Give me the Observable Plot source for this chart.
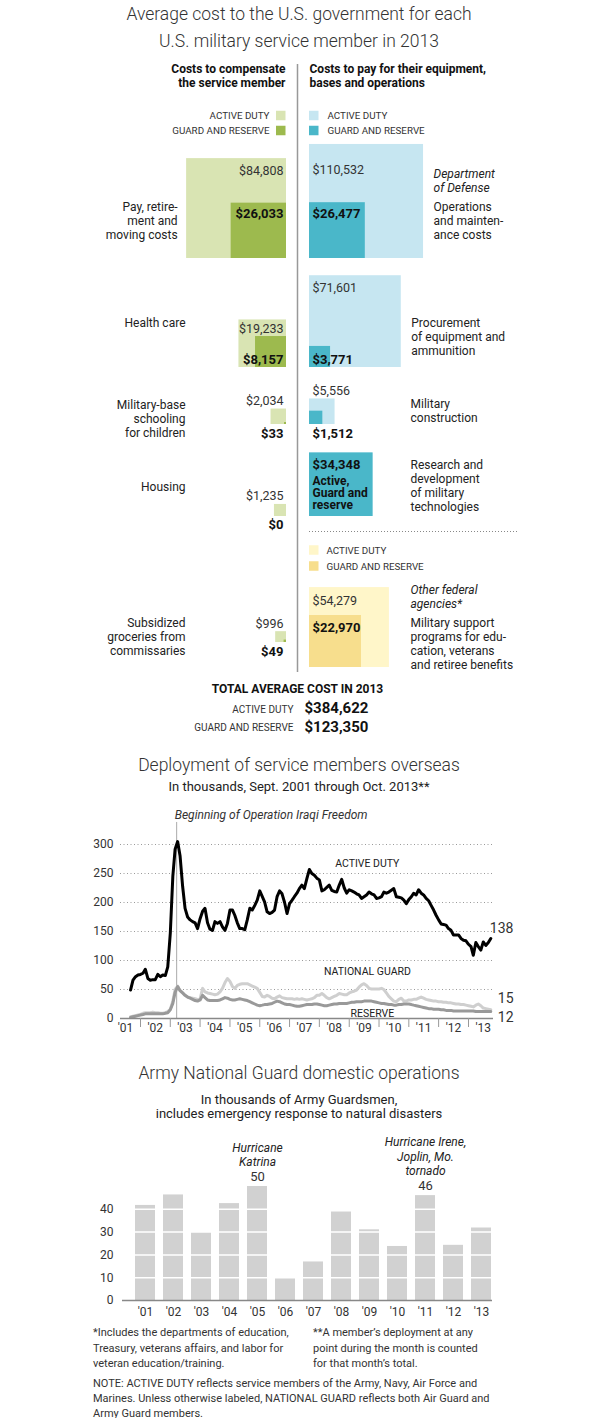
<!DOCTYPE html>
<html><head><meta charset="utf-8">
<script src="https://cdn.jsdelivr.net/npm/d3@7"></script>
<script src="https://cdn.jsdelivr.net/npm/@observablehq/plot@0.6"></script>
<style>
body{margin:0;background:#fff;font-family:Roboto,"Open Sans",sans-serif;color:#333}
#page{position:relative;width:606px;height:1418px;overflow:hidden;background:#fff}
.abs{position:absolute;white-space:nowrap}
.title{font-weight:300;font-size:17.5px;line-height:27px;color:#333;text-align:center;left:0;width:598px}
.sub{font-size:13px;color:#222;text-align:center;left:0;width:598px}
.foot{font-size:11px;color:#333}
</style></head>
<body><div id="page"></div>
<script>
// ---------------- DATA ----------------
const compCategories = ["Pay, retire-\nment and\nmoving costs", "Health care", "Military-base\nschooling\nfor children", "Housing", "Subsidized\ngroceries from\ncommissaries"];
const compActive = [84808, 19233, 2034, 1235, 996];
const compGuard  = [26033, 8157, 33, 0, 49];

const opsCategories = ["Operations\nand mainten-\nance costs", "Procurement\nof equipment and\nammunition", "Military\nconstruction", "Research and\ndevelopment\nof military\ntechnologies", "Military support\nprograms for edu-\ncation, veterans\nand retiree benefits"];
const opsAgency = ["Department\nof Defense", "Department\nof Defense", "Department\nof Defense", "Department\nof Defense", "Other federal\nagencies*"];
const opsActive = [110532, 71601, 5556, 34348, 54279];
const opsGuard  = [26477, 3771, 1512, 34348, 22970];

const legendGroups = ["ACTIVE DUTY", "GUARD AND RESERVE"];
const totalGroups = ["ACTIVE DUTY", "GUARD AND RESERVE"];
const totalCosts = [384622, 123350];

// Monthly deployments overseas, thousands, Sept. 2001 - Oct. 2013
const deployStart = "2001-09";
const activeDuty = [
  49, 66, 72, 75,
  76, 78, 85, 69, 66, 67, 67, 76, 72, 75, 74, 89,
  147, 245, 292, 305, 280, 228, 190, 175, 170, 167, 165, 155,
  172, 185, 190, 165, 154, 152, 167, 164, 167, 158, 152, 164,
  187, 187, 178, 165, 155, 155, 153, 170, 190, 187, 195, 204,
  220, 210, 201, 184, 181, 183, 187, 210, 220, 215, 200, 181,
  198, 204, 210, 216, 224, 230, 224, 241, 257, 250, 247, 242,
  239, 220, 222, 226, 230, 221, 219, 218, 230, 240, 225, 216,
  222, 220, 218, 215, 213, 207, 210, 213, 218, 215, 213, 207,
  208, 210, 218, 216, 218, 221, 224, 210, 209, 208, 204, 198,
  205, 210, 216, 213, 222, 216, 213, 207, 203, 195, 187, 178,
  170, 163, 162, 161, 155, 152, 144, 144, 144, 138, 135, 134,
  128, 124, 109, 131, 124, 118, 132, 126, 131, 138
];
const nationalGuard = [
  3, 4, 5, 6,
  7, 9, 10, 10, 10, 11, 10, 10, 9, 9, 10, 12,
  16, 30, 50, 56, 48, 44, 40, 37, 36, 35, 34, 33,
  34, 52, 46, 44, 43, 42, 41, 42, 46, 52, 62, 69,
  64, 55, 52, 57, 59, 60, 60, 60, 58, 56, 54, 52,
  45, 38, 37, 40, 38, 35, 34, 37, 39, 36, 35, 34,
  34, 34, 33, 34, 33, 34, 33, 32, 33, 34, 36, 40,
  40, 43, 40, 36, 34, 36, 38, 40, 43, 42, 41, 41,
  44, 46, 47, 49, 54, 58, 60, 57, 52, 51, 51, 51,
  51, 52, 50, 44, 38, 34, 30, 29, 33, 35, 30, 30,
  32, 32, 33, 33, 35, 37, 35, 33, 32, 31, 30, 30,
  29, 29, 28, 28, 27, 27, 26, 25, 25, 24, 24, 23,
  22, 21, 20, 23, 25, 22, 18, 17, 16, 15
];
const reserve = [
  2, 3, 4, 5,
  6, 7, 8, 8, 8, 8, 8, 8, 8, 8, 9, 10,
  15, 26, 45, 55, 48, 44, 40, 37, 35, 33, 31, 30,
  32, 40, 36, 32, 31, 31, 31, 31, 32, 34, 36, 35,
  33, 32, 32, 33, 34, 33, 32, 31, 29, 27, 25, 23,
  22, 23, 24, 24, 25, 26, 28, 30, 29, 27, 25, 24,
  24, 23, 22, 21, 21, 22, 23, 24, 24, 24, 25, 25,
  24, 23, 22, 22, 23, 24, 25, 25, 26, 26, 26, 26,
  27, 28, 28, 29, 29, 29, 30, 30, 30, 30, 29, 28,
  27, 26, 26, 25, 24, 24, 23, 23, 24, 24, 25, 25,
  25, 24, 23, 22, 21, 20, 19, 18, 17, 17, 16, 16,
  16, 15, 15, 14, 14, 14, 13, 13, 13, 13, 13, 13,
  13, 13, 13, 12, 12, 12, 12, 12, 12, 12
];
const deployTicks = [0, 50, 100, 150, 200, 250, 300];
const iraqLabel = "Beginning of Operation Iraqi Freedom";
const iraqDate = "2003-03-20";

// Army National Guard domestic operations, thousands
const opsYears = ["2001","2002","2003","2004","2005","2006","2007","2008","2009","2010","2011","2012","2013"];
const guardsmen = [41.7, 46.3, 29.8, 42.5, 50, 9.8, 16.9, 38.8, 31, 23.7, 46, 24.2, 31.8];
const guardTicks = [0, 10, 20, 30, 40];
const barNotes = [{year: "2005", text: "Hurricane\nKatrina"}, {year: "2011", text: "Hurricane Irene,\nJoplin, Mo.\ntornado"}];
const labeledYears = ["2005", "2011"];

// ---------------- STYLE / LAYOUT ----------------
const FONT = "Roboto, 'Open Sans', sans-serif";
const palette = {comp: ["#d9e4b3", "#9dba4e"], dod: ["#c6e6f1", "#4ab7c9"], other: ["#fff6c9", "#f7de8d"]};
const agencyPalette = i => opsAgency[i].startsWith("Department") ? palette.dod : palette.other;
const page = document.getElementById("page");
function addDiv(html, cls, css) {
  const d = document.createElement("div");
  d.className = "abs " + cls; d.innerHTML = html; Object.assign(d.style, css); page.appendChild(d); return d;
}
function addSvg(svg, top) {
  svg.style.position = "absolute"; svg.style.left = "0px"; svg.style.top = top + "px"; svg.style.overflow = "visible";
  page.appendChild(svg);
}
const fmt = d3.format("$,");

// ---------- Section 1: squares ----------
addDiv("Average cost to the U.S. government for each<br>U.S. military service member in 2013", "title", {top: "1px"});

const H1 = 690, TOP1 = 56, K = 0.343, DIV_X = 297, LEFT_EDGE = 286, RIGHT_EDGE = 309;
const ux = px => (px - DIV_X) / K;          // x in sqrt-dollar units, 0 at divider
const uy = py => (py - TOP1) / K;           // y in sqrt-dollar units
const rowBaseLeft = [258, 367, 424, 516, 642];
const rowBaseRight = [258, 367, 424, 516, 667];
const leftLabelTop = [207, 323, 405, 487, 623];
const rightLabelTop = [207, 323, 404, 465, 623];
const LINE = 13.8;
const labOff = {
  leftActive: [["top", 12], ["top", 9], ["top", -8], ["top", -8], ["top", -8]],
  leftGuard: [["gtop", 11], ["base", -8], ["base", 9], ["base", 8], ["base", 9]],
  rightActive: [["top", 26], ["top", 12], ["top", -8], ["top", 12], ["top", 13]],
  rightGuard: [["gtop", 11], ["base", -8], ["base", 9], null, ["gtop", 12]]
};
function labY(base, a, g, off) {
  const b = uy(base);
  const r = off[0] === "top" ? b - Math.sqrt(a) : off[0] === "gtop" ? b - Math.sqrt(g) : b;
  return r + off[1] / K;
}

const squares = [];
[0, 1].forEach(k => {
  compCategories.forEach((c, i) => squares.push({side: "L", base: rowBaseLeft[i], value: (k ? compGuard : compActive)[i], fill: palette.comp[k]}));
  opsCategories.forEach((c, i) => squares.push({side: "R", base: rowBaseRight[i], value: (k ? opsGuard : opsActive)[i], fill: agencyPalette(i)[k]}));
});

const leftCat = [], rightCat = [], agencyLab = [];
compCategories.forEach((c, i) => {
  const xl = Math.min(ux(185), ux(LEFT_EDGE) - Math.sqrt(compActive[i]) - 9 / K);
  c.split("\n").forEach((line, j) => leftCat.push({x: xl, y: uy(leftLabelTop[i] + j * LINE), t: line}));
});
opsCategories.forEach((c, i) => {
  const xr = Math.max(ux(410), ux(RIGHT_EDGE) + Math.sqrt(opsActive[i]) + 10 / K);
  c.split("\n").forEach((line, j) => rightCat.push({x: xr, y: uy(rightLabelTop[i] + j * LINE), t: line}));
  if (i === 0 || opsAgency[i] !== opsAgency[i - 1])
    opsAgency[i].split("\n").forEach((line, j) => agencyLab.push({x: xr, y: uy(rightLabelTop[i] - 33 + j * LINE), t: line}));
});

const regL = [], regR = [], boldL = [], boldR = [], boldSmallR = [];
compCategories.forEach((c, i) => {
  const a = compActive[i], g = compGuard[i], b = rowBaseLeft[i], x = ux(LEFT_EDGE - 3);
  regL.push({x, y: labY(b, a, g, labOff.leftActive[i]), t: fmt(a)});
  boldL.push({x, y: labY(b, a, g, labOff.leftGuard[i]), t: fmt(g)});
});
opsCategories.forEach((c, i) => {
  const a = opsActive[i], g = opsGuard[i], b = rowBaseRight[i], x = ux(RIGHT_EDGE + 3);
  if (a === g) {
    const y0 = labY(b, a, g, labOff.rightActive[i]);
    boldR.push({x, y: y0, t: fmt(a)});
    ["Active,", "Guard and", "reserve"].forEach((t, j) => boldSmallR.push({x, y: y0 + (16 + 12 * j) / K, t}));
  } else {
    regR.push({x, y: labY(b, a, g, labOff.rightActive[i]), t: fmt(a)});
    boldR.push({x, y: labY(b, a, g, labOff.rightGuard[i]), t: fmt(g)});
  }
});

const P = (xpx, ypx, t) => ({x: ux(xpx), y: uy(ypx), t});
const txt = (items, o = {}) => Plot.text(items, {x: "x", y: "y", text: "t", fontSize: 12, fill: "#222", ...o});
const swatches = [
  ...legendGroups.map((g, k) => ({x1: 276, y: [115.5, 130.5][k], fill: palette.comp[k]})),
  ...legendGroups.map((g, k) => ({x1: 309, y: [115.5, 130.5][k], fill: palette.dod[k]})),
  ...legendGroups.map((g, k) => ({x1: 309, y: [550, 566][k], fill: palette.other[k]}))
];

const chart1 = Plot.plot({
  width: 606, height: H1, margin: 0,
  x: {domain: [ux(0), ux(606)], range: [0, 606], axis: null},
  y: {domain: [0, H1 / K], range: [0, H1], axis: null},
  color: {type: "identity"},
  style: {fontFamily: FONT, background: "transparent"},
  marks: [
    Plot.ruleX([0], {y1: uy(64), y2: uy(672), stroke: "#999", strokeWidth: 1.5}),
    Plot.ruleY([uy(531)], {x1: ux(309), x2: ux(517), stroke: "#888", strokeDasharray: "1,2"}),
    Plot.rect(squares, {
      x1: d => d.side === "L" ? ux(LEFT_EDGE) - Math.sqrt(d.value) : ux(RIGHT_EDGE),
      x2: d => d.side === "L" ? ux(LEFT_EDGE) : ux(RIGHT_EDGE) + Math.sqrt(d.value),
      y1: d => uy(d.base) - Math.sqrt(d.value),
      y2: d => uy(d.base),
      fill: "fill"
    }),
    Plot.rect(swatches, {x1: d => ux(d.x1), x2: d => ux(d.x1 + 9.5), y1: d => uy(d.y - 4.75), y2: d => uy(d.y + 4.75), fill: "fill"}),
    txt(legendGroups.map((g, k) => P(269, [115.5, 130.5][k], g)), {textAnchor: "end", fontSize: 9.8, fill: "#333"}),
    txt(legendGroups.map((g, k) => P(327, [115.5, 130.5][k], g)), {textAnchor: "start", fontSize: 9.8, fill: "#333"}),
    txt(legendGroups.map((g, k) => P(326, [550, 566][k], g)), {textAnchor: "start", fontSize: 9.8, fill: "#333"}),
    txt([P(285, 69, "Costs to compensate"), P(285, 82.5, "the service member")], {textAnchor: "end", fontWeight: "bold", fill: "#111"}),
    txt([P(309, 69, "Costs to pay for their equipment,"), P(309, 82.5, "bases and operations")], {textAnchor: "start", fontWeight: "bold", fill: "#111"}),
    txt(leftCat, {textAnchor: "end"}),
    txt(rightCat, {textAnchor: "start"}),
    txt(agencyLab, {textAnchor: "start", fontStyle: "italic"}),
    txt(regL, {textAnchor: "end", fontSize: 12.5, fill: "#333"}),
    txt(regR, {textAnchor: "start", fontSize: 12.5, fill: "#333"}),
    txt(boldL, {textAnchor: "end", fontSize: 13, fontWeight: "bold", fill: "#111"}),
    txt(boldR, {textAnchor: "start", fontSize: 13, fontWeight: "bold", fill: "#111"}),
    txt(boldSmallR, {textAnchor: "start", fontSize: 12, fontWeight: "bold", fill: "#111"}),
    txt([P(297, 689, "TOTAL AVERAGE COST IN 2013")], {textAnchor: "middle", fontWeight: "bold", fill: "#111"}),
    txt(totalGroups.map((g, k) => P(293, [709, 727][k], g)), {textAnchor: "end", fontSize: 10, fill: "#333"}),
    txt(totalCosts.map((v, k) => P(304, [708, 726.5][k], fmt(v))), {textAnchor: "start", fontSize: 15, fontWeight: "bold", fill: "#111"})
  ]
});
addSvg(chart1, TOP1);

// ---------- Section 2: deployment line chart ----------
addDiv("Deployment of service members overseas", "title", {top: "751.5px"});
addDiv("In thousands, Sept. 2001 through Oct. 2013**", "sub", {top: "779px", lineHeight: "16px"});

const start = d3.utcParse("%Y-%m")(deployStart);
const toSeries = (arr) => arr.map((v, i) => ({date: d3.utcMonth.offset(start, i), value: v}));
const activeData = toSeries(activeDuty), guardData = toSeries(nationalGuard), reserveData = toSeries(reserve);
const yearStarts = d3.utcYear.range(new Date(Date.UTC(2002, 0, 1)), new Date(Date.UTC(2013, 1, 1)));
const midYears = d3.utcYear.range(new Date(Date.UTC(2001, 0, 1)), new Date(Date.UTC(2014, 0, 1))).map(d => d3.utcMonth.offset(d, 6));
const iraq = d3.utcParse("%Y-%m-%d")(iraqDate);
const seriesLabels = [
  {date: new Date(Date.UTC(2009, 7, 10)), value: 267, t: "ACTIVE DUTY"},
  {date: new Date(Date.UTC(2009, 7, 12)), value: 81, t: "NATIONAL GUARD"},
  {date: new Date(Date.UTC(2009, 9, 12)), value: 8.5, t: "RESERVE"}
];

const chart2 = Plot.plot({
  width: 606, height: 250, marginLeft: 120, marginRight: 113, marginTop: 54, marginBottom: 22,
  x: {type: "utc", domain: [new Date(Date.UTC(2002, 0, 1)), new Date(Date.UTC(2013, 0, 1))], range: [140, 468], label: null},
  y: {domain: [0, 300], label: null},
  style: {fontFamily: FONT, fontSize: "12px", color: "#333", background: "transparent"},
  marks: [
    Plot.ruleY(deployTicks.filter(d => d > 0), {stroke: "#9a9a9a", strokeDasharray: "1,2.5"}),
    Plot.ruleX([iraq], {y1: 0, y2: 338, stroke: "#aaa"}),
    Plot.text([iraq], {x: d => d, y: 338, dy: -7, dx: -2, text: () => iraqLabel, textAnchor: "start", fontStyle: "italic", fontSize: 12, fill: "#333"}),
    Plot.line(guardData, {x: "date", y: "value", stroke: "#cfcfcf", strokeWidth: 3, strokeLinejoin: "round"}),
    Plot.line(reserveData, {x: "date", y: "value", stroke: "#999", strokeWidth: 3, strokeLinejoin: "round"}),
    Plot.line(activeData, {x: "date", y: "value", stroke: "#000", strokeWidth: 3, strokeLinejoin: "round"}),
    Plot.ruleY([0], {stroke: "#888", strokeWidth: 1.5}),
    Plot.axisY(deployTicks, {tickSize: 0, tickPadding: 7, fontSize: 12, label: null}),
    Plot.axisX(yearStarts, {tickSize: 9, tickFormat: () => "", stroke: "#999", label: null}),
    Plot.axisX(midYears, {tickSize: 0, tickPadding: 5, fontSize: 12, label: null, tickFormat: d => "'" + String(d.getUTCFullYear()).slice(2)}),
    Plot.text(seriesLabels, {x: "date", y: "value", text: "t", fontSize: 10.5, fill: "#222"}),
    Plot.text([activeData[activeData.length - 1]], {x: "date", y: "value", text: d => String(d.value), dx: -1, dy: -10, textAnchor: "start", fontSize: 14, fill: "#333"}),
    Plot.text([guardData[guardData.length - 1]], {x: "date", y: "value", text: d => String(d.value), dx: 7, dy: -11, textAnchor: "start", fontSize: 14, fill: "#333"}),
    Plot.text([reserveData[reserveData.length - 1]], {x: "date", y: "value", text: d => String(d.value), dx: 7, dy: 6, textAnchor: "start", fontSize: 14, fill: "#333"})
  ]
});
addSvg(chart2, 790);

// ---------- Section 3: bar chart ----------
addDiv("Army National Guard domestic operations", "title", {top: "1059.5px"});
addDiv("In thousands of Army Guardsmen,<br>includes emergency response to natural disasters", "sub", {top: "1093px", lineHeight: "13.5px"});

const barData = opsYears.map((y, i) => ({year: y, value: guardsmen[i]}));
const valueOf = y => guardsmen[opsYears.indexOf(y)];
const chart3 = Plot.plot({
  width: 606, height: 200, marginLeft: 122, marginRight: 114, marginTop: 61, marginBottom: 25,
  x: {type: "band", domain: opsYears, paddingInner: 0.28, paddingOuter: 0.14, align: 0.92, label: null},
  y: {domain: [0, 50], label: null},
  style: {fontFamily: FONT, fontSize: "12px", color: "#333", background: "transparent"},
  marks: [
    Plot.barY(barData, {x: "year", y: "value", fill: "#d1d1d1"}),
    Plot.ruleY(guardTicks.filter(d => d > 0), {stroke: "#fff", strokeWidth: 1.5}),
    Plot.ruleY([0], {stroke: "#888", strokeWidth: 1.5}),
    Plot.axisY(guardTicks, {tickSize: 0, tickPadding: 9, fontSize: 12, label: null}),
    Plot.axisX({tickSize: 0, tickPadding: 7, fontSize: 12, label: null, tickFormat: y => "'" + y.slice(2)}),
    Plot.text(labeledYears, {x: d => d, y: d => valueOf(d), text: d => String(valueOf(d)), dy: -10, fontSize: 13, fill: "#333"}),
    Plot.text(barNotes, {x: "year", y: d => valueOf(d.year), text: "text", lineAnchor: "bottom", dy: -20.5, lineHeight: 1.2, fontStyle: "italic", fontSize: 12, fill: "#222"})
  ]
});
addSvg(chart3, 1125);

// ---------- Footnotes ----------
addDiv("*Includes the departments of education,<br>Treasury, veterans affairs, and labor for<br>veteran education/training.", "foot", {left: "93px", top: "1325px", lineHeight: "15.5px"});
addDiv("**A member’s deployment at any<br>point during the month is counted<br>for that month’s total.", "foot", {left: "313px", top: "1325px", lineHeight: "15.5px"});
addDiv("NOTE: ACTIVE DUTY reflects service members of the Army, Navy, Air Force and<br>Marines. Unless otherwise labeled, NATIONAL GUARD reflects both Air Guard and<br>Army Guard members.", "foot", {left: "93px", top: "1375.5px", lineHeight: "15px"});
</script>
</body></html>
